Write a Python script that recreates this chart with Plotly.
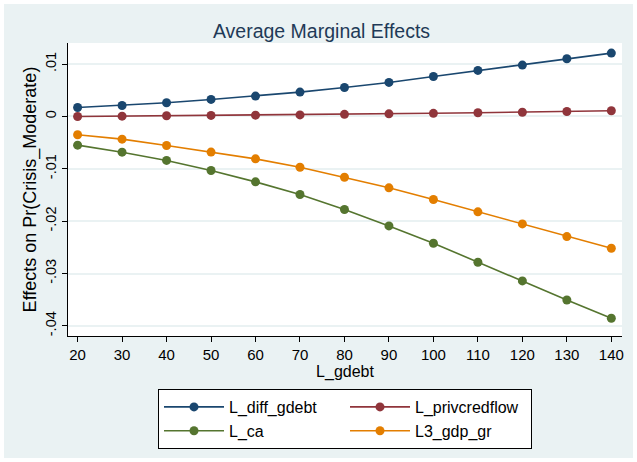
import plotly.graph_objects as go

x_vals = [20, 30, 40, 50, 60, 70, 80, 90, 100, 110, 120, 130, 140]
diff_gdebt = [0.00172, 0.0021, 0.00261, 0.00325, 0.00389, 0.00465, 0.00554, 0.0065, 0.00764, 0.00879, 0.00981, 0.01102, 0.0121]
privcredflow = [0.0, 0.00006, 0.00013, 0.0002, 0.00025, 0.0003, 0.0004, 0.0005, 0.0006, 0.0007, 0.0008, 0.00095, 0.0011]
ca = [-0.00548, -0.00682, -0.0084, -0.01032, -0.01249, -0.01491, -0.01778, -0.0209, -0.02421, -0.02784, -0.03141, -0.03505, -0.03855]
gdp_gr = [-0.0035, -0.00433, -0.00554, -0.0068, -0.0081, -0.0097, -0.0116, -0.01363, -0.01587, -0.01822, -0.02052, -0.02294, -0.02517]

series_names = ["L_diff_gdebt", "L_privcredflow", "L_ca", "L3_gdp_gr"]
series_vals = [diff_gdebt, privcredflow, ca, gdp_gr]
series_colors = ["#1A476F", "#90353B", "#55752F", "#E37E00"]

y_tickvals = [0.01, 0, -0.01, -0.02, -0.03, -0.04]
y_ticktext = [".01", "0", "-.01", "-.02", "-.03", "-.04"]
x_tickvals = x_vals

BG = "#EAF2F3"
FONT = "Liberation Sans, Arial, sans-serif"

fig = go.Figure()
for name, vals, col in zip(series_names, series_vals, series_colors):
    fig.add_trace(go.Scatter(
        x=x_vals, y=vals, name=name, mode="lines+markers",
        line=dict(color=col, width=1.6),
        marker=dict(color=col, size=9),
    ))

L, R, T, B = 68, 15, 43, 126
fig.update_layout(
    width=637, height=462,
    margin=dict(l=L, r=R, t=T, b=B),
    paper_bgcolor=BG, plot_bgcolor="white",
    font=dict(family=FONT, size=15, color="black"),
    title=dict(text="Average Marginal Effects", x=321.5 / 637, xanchor="center", xref="container",
               y=1 - 31 / 462, yanchor="middle", yref="container",
               font=dict(size=19.5, color="#1F3A57")),
    xaxis=dict(range=[17.84, 142.4], tickvals=x_tickvals, showgrid=False, zeroline=False,
               showline=True, linecolor="black", linewidth=1.2,
               ticks="outside", ticklen=5, tickcolor="black", tickfont=dict(size=15),
               title=dict(text="L_gdebt", standoff=1, font=dict(size=16))),
    yaxis=dict(range=[-0.04193, 0.01403], tickvals=y_tickvals, ticktext=y_ticktext,
               tickangle=-90, showgrid=True, gridcolor=BG, gridwidth=1.5, zeroline=False,
               showline=True, linecolor="black", linewidth=1.2,
               ticks="outside", ticklen=5, tickcolor="black", tickfont=dict(size=14.5),
               title=dict(text="Effects on Pr(Crisis_Moderate)", standoff=1, font=dict(size=18))),
    legend=dict(orientation="h", x=0.5, xanchor="center", y=(336 - 389) / 293, yanchor="top",
                bgcolor="white", bordercolor="black", borderwidth=1,
                itemwidth=60, entrywidth=111, entrywidthmode="pixels",
                font=dict(size=16), tracegroupgap=0),
    shapes=[dict(type="rect", xref="paper", yref="paper",
                 x0=(2 - L) / (637 - L - R), x1=(635 - L) / (637 - L - R),
                 y0=(462 - B - 460) / (462 - T - B), y1=(462 - B - 2) / (462 - T - B),
                 line=dict(color="white", width=4), fillcolor="rgba(0,0,0,0)")],
)

fig.write_html("out.html")
